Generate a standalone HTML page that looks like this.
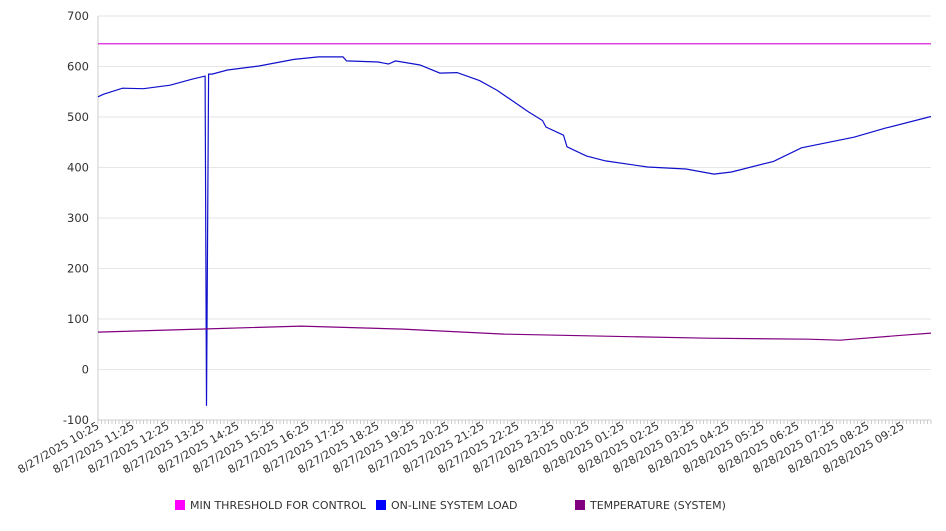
<!DOCTYPE html>
<html><head><meta charset="utf-8"><style>
body{margin:0;background:#fff;font-family:"Liberation Sans","DejaVu Sans",sans-serif;}
svg text{font-family:"DejaVu Sans","Liberation Sans",sans-serif;fill:#333;}
</style></head><body>
<svg id="c" width="946" height="526"></svg>
<script>
const tickLabels=["8/27/2025 10:25","8/27/2025 11:25","8/27/2025 12:25","8/27/2025 13:25","8/27/2025 14:25","8/27/2025 15:25","8/27/2025 16:25","8/27/2025 17:25","8/27/2025 18:25","8/27/2025 19:25","8/27/2025 20:25","8/27/2025 21:25","8/27/2025 22:25","8/27/2025 23:25","8/28/2025 00:25","8/28/2025 01:25","8/28/2025 02:25","8/28/2025 03:25","8/28/2025 04:25","8/28/2025 05:25","8/28/2025 06:25","8/28/2025 07:25","8/28/2025 08:25","8/28/2025 09:25"];
const yTicks=[-100,0,100,200,300,400,500,600,700];
const thresholdValue=645;
const loadHours=[0,0.15,0.7,1.3,2.06,2.7,3.06,3.1,3.16,3.26,3.7,4.6,5.6,6.3,7.0,7.1,8.0,8.3,8.5,9.2,9.77,10.26,10.9,11.4,12.3,12.7,12.8,13.3,13.4,13.95,14.5,15.7,16.8,17.6,18.1,19.3,20.1,21.6,22.5,23.8];
const loadValues=[540,545,557,556,563,575,581,-72,585,585,593,601,614,619,619,611,609,605,611,603,587,588,572,553,510,493,480,464,441,423,413,401,397,387,391,412,439,460,478,501];
const tempHours=[0,2.9,5.8,8.7,11.6,14.5,17.4,20.3,21.2,23,23.8];
const tempValues=[74,80,86,80,70,66,62,60,58,68,72];
const NS="http://www.w3.org/2000/svg";
const svg=document.getElementById('c');
const X0=98,X1=931,PX=35;
const x=h=>X0+h*PX;
const y=v=>369.5-v*0.505;
function el(t,a,p){const e=document.createElementNS(NS,t);for(const k in a)e.setAttribute(k,a[k]);(p||svg).appendChild(e);return e;}
yTicks.forEach(v=>{
 const g=el('line',{x1:X0,x2:X1,y1:y(v),y2:y(v),stroke:'#e6e6e6'});
 
 
 const t=el('text',{x:89,y:y(v)+4,'text-anchor':'end','font-size':11.5});
 t.textContent=v;
 
 
});
el('line',{x1:X0,x2:X0,y1:16,y2:420,stroke:'#ccc'});
const ax=el('line',{x1:X0,x2:X1,y1:420,y2:420,stroke:'#ccc'});


let td='';
for(let px=X0;px<=X1;px+=3.5){td+=`M${px.toFixed(1)},420V424`;}
el('path',{d:td,stroke:'#ccc','stroke-width':1});
tickLabels.forEach((s,i)=>{
 const t=el('text',{transform:`translate(${x(i)+2},428) rotate(-30)`,'text-anchor':'end','font-size':11});
 t.textContent=s;
 
 
});
const th=el('line',{x1:X0,x2:X1,y1:y(thresholdValue),y2:y(thresholdValue),stroke:'#dd22dd','stroke-width':1.3});


function path(hs,vs,col,name){
 const p=el('path',{d:hs.map((h,i)=>(i?'L':'M')+x(h).toFixed(1)+','+y(vs[i]).toFixed(1)).join(''),fill:'none',stroke:col,'stroke-width':1.2});
 
 
}
path(loadHours,loadValues,'#1010cc','online-system-load-line');
path(tempHours,tempValues,'#800080','temperature-line');
const leg=[["MIN THRESHOLD FOR CONTROL","#ff00ff",175],["ON-LINE SYSTEM LOAD","#0000ff",376],["TEMPERATURE (SYSTEM)","#800080",575]];
leg.forEach(l=>{
 const g=el('g',{});
 
 
 el('rect',{x:l[2],y:500,width:10,height:10,fill:l[1]},g);
 const t=el('text',{x:l[2]+15,y:509,'font-size':11},g);
 t.textContent=l[0];
});
</script>
</body></html>
